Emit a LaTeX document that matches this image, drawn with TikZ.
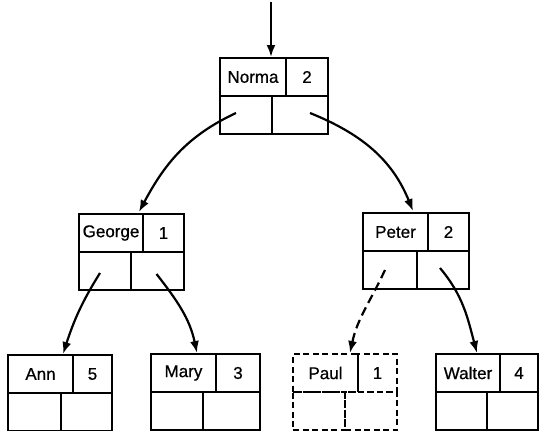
\documentclass[tikz,border=0pt]{standalone}
\usepackage{fontspec}
\setmainfont{Liberation Sans}[FakeBold=0.7]
\usetikzlibrary{arrows.meta}
\tikzset{
  cell/.style={draw, line width=2.8pt, inner sep=0pt, outer sep=0pt, minimum height=38pt,
    font=\fontsize{17}{20}\selectfont},
  solidrec/.style={},
  dashrec/.style={dash pattern=on 6pt off 3.5pt, line width=2.2pt},
  link/.style={line width=2.2pt, -{Latex[length=12pt,width=9pt]}},
  dashlink/.style={link, dash pattern=on 9pt off 5pt}
}
% id, x0, x1 (top divider), xb (bottom divider), x2, y0, name, count, style
\newcommand\rec[9]{%
  \node[cell,#9,minimum width={(#3-#2)*1pt}] (#1-n) at ({(#2+#3)/2},{#6+19}) {#7};
  \node[cell,#9,minimum width={(#5-#3)*1pt}] (#1-c) at ({(#3+#5)/2},{#6+19}) {#8};
  \node[cell,#9,minimum width={(#4-#2)*1pt}] (#1-l) at ({(#2+#4)/2},{#6+57}) {};
  \node[cell,#9,minimum width={(#5-#4)*1pt}] (#1-r) at ({(#4+#5)/2},{#6+57}) {};
}
\begin{document}
\begin{tikzpicture}[x=1pt,y=-1pt]
\clip (0,0) rectangle (539,431);
\fill[white] (0,0) rectangle (539,431);
\rec{norma}{220}{286}{272}{328}{58}{Norma}{2}{solidrec}
\rec{george}{79}{143}{131}{184}{214}{George}{1}{solidrec}
\rec{peter}{363}{428}{417}{469}{213}{Peter}{2}{solidrec}
\rec{ann}{8}{73}{61}{112}{355}{Ann}{5}{solidrec}
\rec{mary}{151}{216}{203}{260}{354}{Mary}{3}{solidrec}
\rec{paul}{293}{358}{345}{397}{354}{Paul}{1}{dashrec}
\rec{walter}{436}{500}{487}{538}{354}{Walter}{4}{solidrec}
% entry points
\coordinate (root) at (271,2);
\coordinate (norma-in) at (271,57);
\coordinate (george-in) at (139,212);
\coordinate (peter-in) at (413,211);
\coordinate (ann-in) at (63,354);
\coordinate (mary-in) at (197,353);
\coordinate (paul-in) at (350,353);
\coordinate (walter-in) at (477,353);
% connectors
\draw[link] (root) -- (norma-in);
\draw[link] ([xshift=-10pt,yshift=2pt]norma-l.center) to[out=205,in=62] (george-in);
\draw[link] ([xshift=10pt,yshift=2pt]norma-r.center) to[out=-22,in=112] (peter-in);
\draw[link] ([xshift=-5pt,yshift=-2pt]george-l.center) to[out=238,in=72] (ann-in);
\draw[link] ([xshift=-1pt,yshift=-3pt]george-r.center) to[out=-52,in=102] (mary-in);
\draw[dashlink] ([xshift=-5pt]peter-l.center) to[out=245,in=78] (paul-in);
\draw[link] ([xshift=-3pt,yshift=2pt]peter-r.center) to[out=-50,in=105] (walter-in);
\end{tikzpicture}
\end{document}
